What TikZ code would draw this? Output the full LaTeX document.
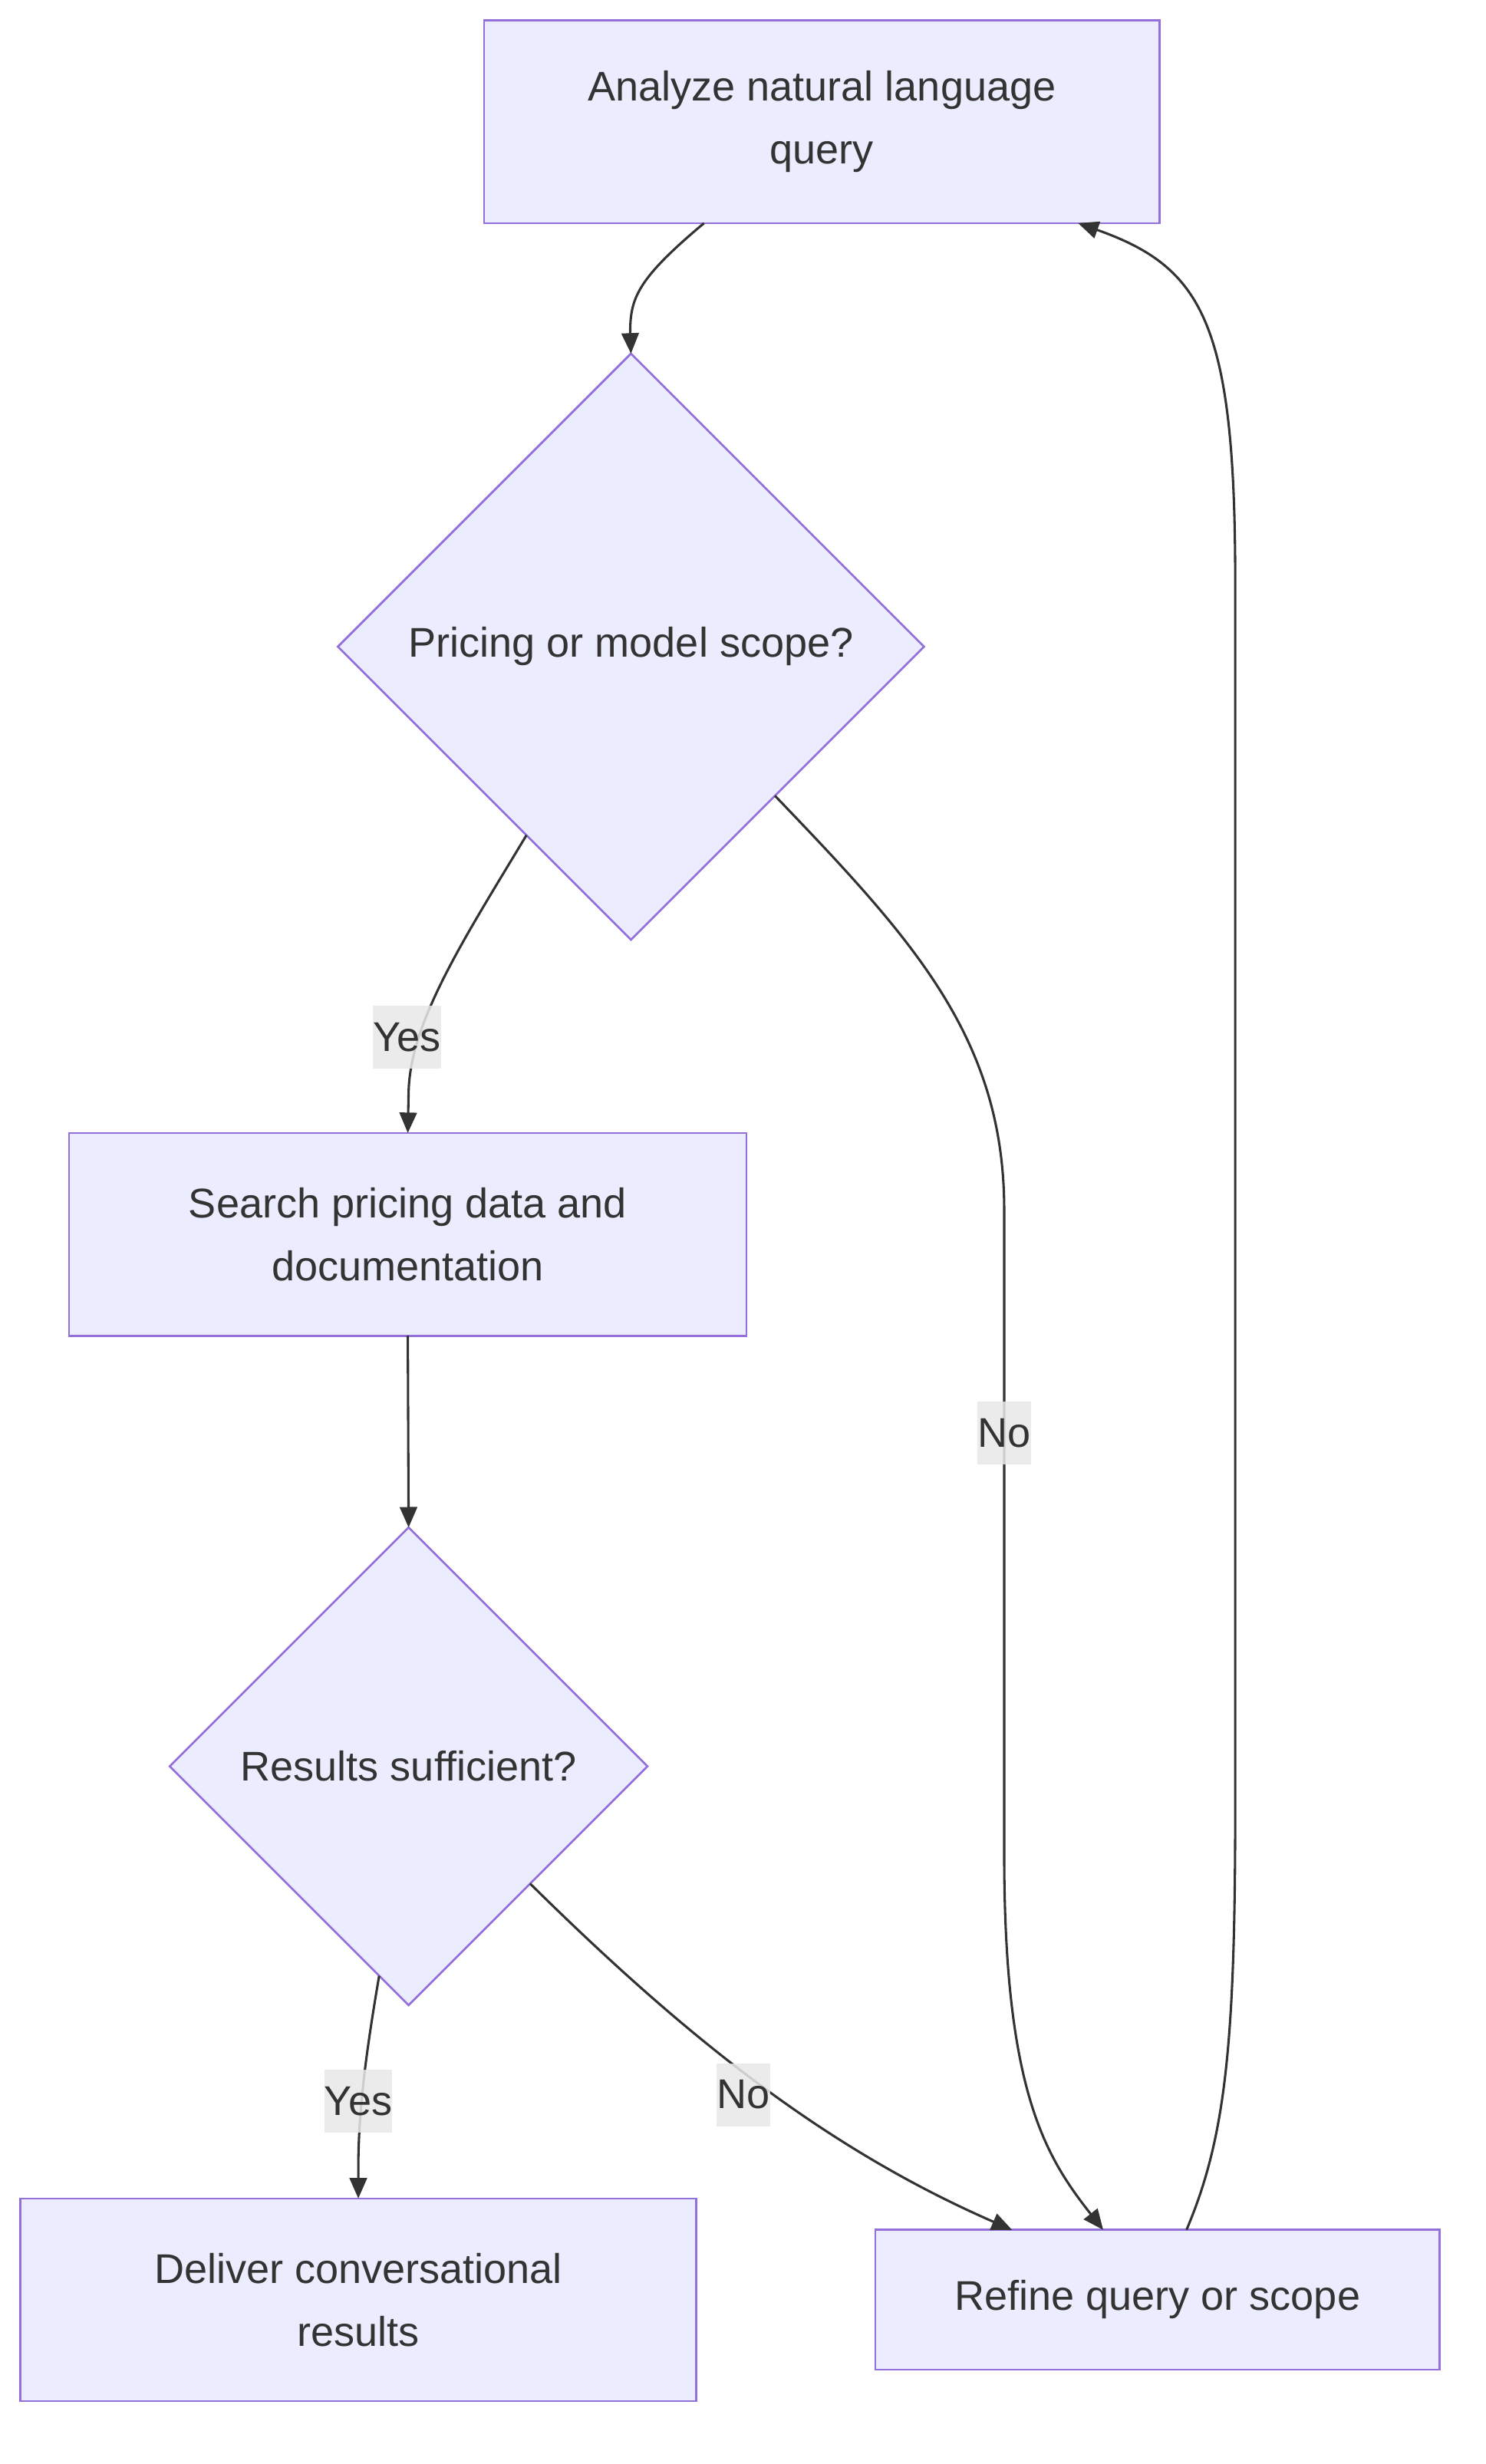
\documentclass[tikz,border=0pt]{standalone}
\usepackage{fontspec}
\setmainfont{Liberation Sans}
\usetikzlibrary{shapes.geometric,arrows.meta}
\definecolor{nodefill}{HTML}{ECECFF}
\definecolor{nodeline}{HTML}{9370DB}
\definecolor{ink}{HTML}{333333}
\definecolor{lblbg}{HTML}{E8E8E8}
\tikzset{
  base/.style={draw=nodeline, fill=nodefill, line width=1.3pt, text=ink, align=center,
    font=\fontsize{26.4}{40}\selectfont, inner sep=0pt, outer sep=0pt},
  procbox/.style={base, rectangle},
  decide/.style={base, diamond, aspect=1, minimum width=373pt, minimum height=373pt},
  conn/.style={draw=ink, line width=1.5pt, -{Triangle[length=13pt,width=11pt]}},
  edgelbl/.style={fill=lblbg, fill opacity=0.85, text opacity=1, text=ink,
    font=\fontsize{26.4}{40}\selectfont, inner xsep=0pt, inner ysep=0pt, minimum height=40pt}
}
\begin{document}
\begin{tikzpicture}[x=1pt,y=-1pt]
\useasboundingbox (0,0) rectangle (945.1,1568);
\fill[white] (0,0) rectangle (945.1,1568);
% nodes
\node[procbox, minimum width=430pt, minimum height=129pt] (A) at (523,77.5) {Analyze natural language\\query};
\node[decide] (B) at (401.5,411.5) {Pricing or model scope?};
\node[procbox, minimum width=431pt, minimum height=129pt] (C) at (259.5,785.5) {Search pricing data and\\documentation};
\node[decide, minimum width=304pt, minimum height=304pt] (D) at (260,1124) {Results sufficient?};
\node[procbox, minimum width=430pt, minimum height=129pt] (E) at (228,1463.5) {Deliver conversational\\results};
\node[procbox, minimum width=359pt, minimum height=89pt] (F) at (736.5,1463.5) {Refine query or scope};
% connectors
\draw[conn] ([xshift=-75pt]A.south) .. controls (405,178) and (401,190) .. (401,212) -- (B.north);
\draw[conn] (B.-119.5) .. controls (295,598) and (261,650) .. (260,695) -- (C.north);
\draw[conn] (B.-46.5) .. controls (580,597) and (639,660) .. (639,770) -- (639,1180)
   .. controls (639,1330) and (665,1372) .. ([xshift=-34.5pt]F.north);
\draw[conn] (C.south) -- (D.north);
\draw[conn] (D.-98.5) .. controls (234,1300) and (228,1340) .. (228,1380) -- (E.north);
\draw[conn] (D.-44.6) .. controls (430,1290) and (520,1365) .. ([xshift=-92.5pt]F.north);
\draw[conn] ([xshift=18.5pt]F.north) .. controls (780,1360) and (786,1300) .. (786,1150) -- (786,370)
   .. controls (786,205) and (765,170) .. ([xshift=163pt]A.south);
% edge labels
\node[edgelbl] (l1) at (259,660) {Yes};
\node[edgelbl] (l2) at (639,912) {No};
\node[edgelbl] (l3) at (228,1337) {Yes};
\node[edgelbl] (l4) at (473,1333) {No};
\end{tikzpicture}
\end{document}
